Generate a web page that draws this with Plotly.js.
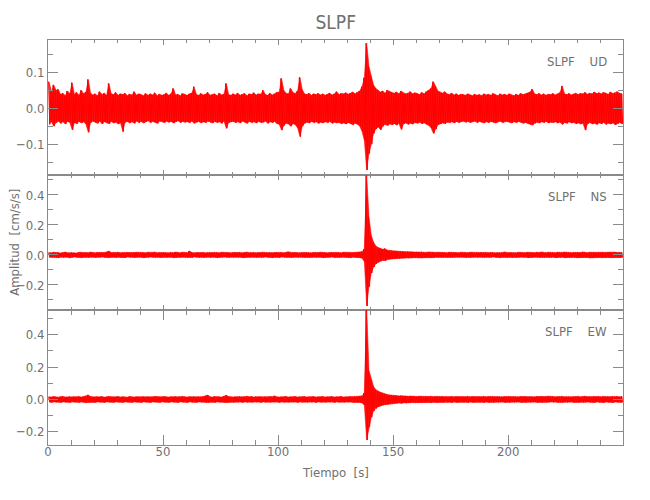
<!DOCTYPE html>
<html>
<head>
<meta charset="utf-8">
<script src="https://cdn.plot.ly/plotly-3.0.1.min.js"></script>
<style>html,body{margin:0;padding:0;background:#fff;}#chart{width:650px;height:500px;}</style>
</head>
<body>
<div id="chart"></div>
<script>
// Station and component labels
const station = "SLPF";
const components = ["UD", "NS", "EW"];
// Envelope of each trace in 1-second bins (bin start times 0..249 s), cm/s/s
const binWidth = 1;

const udMax = [
0.074,0.045,0.065,0.05,0.052,0.038,0.042,0.035,0.048,0.04,
0.071,0.038,0.044,0.036,0.05,0.04,0.045,0.08,0.042,0.037,
0.04,0.035,0.046,0.038,0.042,0.036,0.069,0.04,0.038,0.044,
0.036,0.04,0.038,0.042,0.035,0.039,0.037,0.046,0.036,0.04,
0.038,0.035,0.041,0.036,0.04,0.037,0.043,0.035,0.039,0.036,
0.038,0.042,0.036,0.04,0.055,0.037,0.039,0.035,0.041,0.038,
0.036,0.04,0.042,0.06,0.038,0.036,0.041,0.037,0.039,0.044,
0.036,0.038,0.04,0.035,0.042,0.037,0.039,0.069,0.038,0.036,
0.04,0.037,0.042,0.036,0.039,0.041,0.035,0.04,0.038,0.043,
0.037,0.04,0.039,0.05,0.038,0.036,0.042,0.037,0.04,0.044,
0.045,0.083,0.05,0.042,0.04,0.055,0.044,0.041,0.048,0.086,
0.052,0.04,0.038,0.042,0.036,0.04,0.038,0.041,0.037,0.04,
0.036,0.039,0.042,0.037,0.04,0.046,0.038,0.041,0.04,0.043,
0.039,0.042,0.045,0.04,0.044,0.048,0.06,0.085,0.181,0.116,
0.09,0.065,0.055,0.05,0.045,0.048,0.042,0.05,0.046,0.044,
0.042,0.045,0.04,0.048,0.043,0.04,0.042,0.046,0.04,0.043,
0.041,0.038,0.044,0.04,0.046,0.05,0.055,0.074,0.06,0.048,
0.045,0.042,0.046,0.04,0.038,0.042,0.037,0.04,0.036,0.039,
0.038,0.036,0.04,0.037,0.035,0.039,0.036,0.038,0.035,0.04,
0.037,0.039,0.036,0.041,0.038,0.035,0.04,0.037,0.039,0.036,
0.04,0.037,0.035,0.039,0.036,0.041,0.038,0.04,0.042,0.045,
0.053,0.04,0.038,0.041,0.037,0.04,0.036,0.039,0.038,0.041,
0.037,0.04,0.043,0.062,0.04,0.038,0.041,0.037,0.04,0.042,
0.038,0.041,0.04,0.044,0.039,0.042,0.04,0.045,0.041,0.043,
0.04,0.044,0.042,0.039,0.045,0.041,0.043,0.046,0.042,0.04];

const udMin = [
-0.045,-0.038,-0.05,-0.04,-0.036,-0.042,-0.038,-0.044,-0.037,-0.04,
-0.06,-0.04,-0.043,-0.037,-0.041,-0.038,-0.045,-0.067,-0.04,-0.036,
-0.039,-0.042,-0.036,-0.044,-0.038,-0.04,-0.043,-0.037,-0.041,-0.039,
-0.044,-0.04,-0.065,-0.039,-0.037,-0.041,-0.038,-0.042,-0.036,-0.04,
-0.037,-0.041,-0.038,-0.035,-0.04,-0.037,-0.039,-0.042,-0.036,-0.038,
-0.04,-0.036,-0.039,-0.037,-0.041,-0.038,-0.035,-0.04,-0.037,-0.039,
-0.038,-0.04,-0.036,-0.042,-0.039,-0.037,-0.041,-0.038,-0.04,-0.036,
-0.039,-0.041,-0.037,-0.04,-0.038,-0.042,-0.036,-0.056,-0.04,-0.038,
-0.037,-0.04,-0.038,-0.041,-0.036,-0.039,-0.042,-0.037,-0.04,-0.038,
-0.041,-0.037,-0.04,-0.039,-0.036,-0.042,-0.038,-0.04,-0.037,-0.043,
-0.045,-0.061,-0.048,-0.042,-0.044,-0.05,-0.043,-0.046,-0.055,-0.079,
-0.05,-0.042,-0.039,-0.041,-0.037,-0.04,-0.038,-0.042,-0.039,-0.041,
-0.038,-0.04,-0.037,-0.042,-0.039,-0.041,-0.04,-0.043,-0.041,-0.044,
-0.04,-0.043,-0.046,-0.042,-0.045,-0.05,-0.065,-0.09,-0.172,-0.126,
-0.1,-0.07,-0.058,-0.052,-0.06,-0.05,-0.045,-0.048,-0.044,-0.046,
-0.043,-0.047,-0.042,-0.059,-0.044,-0.041,-0.045,-0.042,-0.044,-0.04,
-0.042,-0.039,-0.043,-0.041,-0.045,-0.048,-0.055,-0.07,-0.058,-0.046,
-0.044,-0.041,-0.043,-0.039,-0.04,-0.038,-0.041,-0.037,-0.04,-0.038,
-0.036,-0.039,-0.037,-0.04,-0.038,-0.036,-0.04,-0.037,-0.039,-0.041,
-0.038,-0.04,-0.037,-0.039,-0.041,-0.038,-0.036,-0.04,-0.038,-0.037,
-0.039,-0.041,-0.038,-0.04,-0.037,-0.039,-0.042,-0.04,-0.043,-0.045,
-0.047,-0.042,-0.039,-0.041,-0.038,-0.04,-0.037,-0.041,-0.039,-0.04,
-0.038,-0.041,-0.039,-0.045,-0.04,-0.042,-0.038,-0.041,-0.04,-0.043,
-0.041,-0.044,-0.042,-0.061,-0.043,-0.04,-0.044,-0.042,-0.045,-0.041,
-0.043,-0.04,-0.045,-0.042,-0.044,-0.041,-0.046,-0.043,-0.04,-0.044];

const nsMax = [
0.016,0.014,0.018,0.015,0.017,0.013,0.016,0.019,0.015,0.014,
0.017,0.015,0.013,0.018,0.016,0.014,0.017,0.015,0.019,0.016,
0.014,0.017,0.015,0.018,0.016,0.02,0.026,0.017,0.015,0.016,
0.018,0.014,0.016,0.015,0.019,0.017,0.014,0.016,0.018,0.015,
0.017,0.016,0.014,0.018,0.015,0.017,0.019,0.014,0.016,0.015,
0.018,0.016,0.014,0.017,0.015,0.019,0.016,0.014,0.018,0.017,
0.015,0.026,0.017,0.014,0.016,0.018,0.015,0.017,0.014,0.016,
0.018,0.015,0.017,0.016,0.014,0.018,0.016,0.015,0.017,0.014,
0.016,0.018,0.015,0.017,0.014,0.016,0.019,0.015,0.017,0.016,
0.014,0.017,0.015,0.018,0.016,0.014,0.017,0.015,0.016,0.018,
0.015,0.017,0.014,0.016,0.021,0.017,0.015,0.018,0.016,0.014,
0.017,0.015,0.018,0.016,0.014,0.017,0.015,0.016,0.018,0.015,
0.017,0.014,0.016,0.018,0.015,0.017,0.016,0.014,0.018,0.016,
0.015,0.017,0.016,0.018,0.015,0.017,0.022,0.04,0.53,0.255,
0.13,0.085,0.06,0.05,0.045,0.038,0.042,0.032,0.03,0.028,
0.026,0.024,0.025,0.022,0.023,0.021,0.022,0.02,0.021,0.019,
0.02,0.018,0.021,0.019,0.017,0.02,0.018,0.019,0.017,0.018,
0.016,0.018,0.017,0.015,0.018,0.016,0.019,0.017,0.015,0.018,
0.016,0.017,0.015,0.018,0.016,0.014,0.017,0.016,0.018,0.015,
0.017,0.015,0.018,0.016,0.014,0.017,0.015,0.016,0.02,0.016,
0.015,0.017,0.016,0.014,0.018,0.016,0.017,0.015,0.018,0.016,
0.017,0.015,0.018,0.016,0.02,0.017,0.015,0.018,0.016,0.017,
0.015,0.018,0.016,0.017,0.019,0.016,0.018,0.015,0.017,0.016,
0.018,0.016,0.02,0.017,0.015,0.018,0.016,0.019,0.017,0.018,
0.016,0.019,0.017,0.018,0.02,0.017,0.019,0.016,0.018,0.017];

const nsMin = [
-0.015,-0.017,-0.014,-0.016,-0.018,-0.015,-0.017,-0.014,-0.016,-0.019,
-0.016,-0.014,-0.017,-0.015,-0.018,-0.016,-0.014,-0.017,-0.015,-0.016,
-0.018,-0.015,-0.016,-0.014,-0.017,-0.015,-0.018,-0.016,-0.014,-0.017,
-0.015,-0.017,-0.016,-0.018,-0.014,-0.016,-0.015,-0.017,-0.016,-0.014,
-0.016,-0.018,-0.015,-0.017,-0.014,-0.016,-0.018,-0.015,-0.017,-0.016,
-0.014,-0.017,-0.016,-0.015,-0.018,-0.016,-0.014,-0.017,-0.015,-0.016,
-0.018,-0.015,-0.017,-0.014,-0.016,-0.018,-0.015,-0.017,-0.016,-0.014,
-0.017,-0.015,-0.016,-0.018,-0.015,-0.017,-0.014,-0.016,-0.018,-0.015,
-0.016,-0.014,-0.017,-0.015,-0.018,-0.016,-0.014,-0.017,-0.015,-0.016,
-0.018,-0.015,-0.017,-0.016,-0.014,-0.017,-0.015,-0.018,-0.016,-0.015,
-0.017,-0.014,-0.016,-0.018,-0.015,-0.017,-0.016,-0.014,-0.017,-0.015,
-0.016,-0.018,-0.015,-0.017,-0.016,-0.014,-0.017,-0.015,-0.016,-0.018,
-0.015,-0.017,-0.016,-0.014,-0.017,-0.015,-0.018,-0.016,-0.015,-0.017,
-0.016,-0.018,-0.015,-0.017,-0.016,-0.018,-0.022,-0.045,-0.34,-0.21,
-0.12,-0.08,-0.058,-0.048,-0.042,-0.036,-0.038,-0.03,-0.028,-0.027,
-0.025,-0.023,-0.024,-0.021,-0.022,-0.02,-0.021,-0.019,-0.02,-0.018,
-0.019,-0.017,-0.02,-0.018,-0.016,-0.019,-0.017,-0.018,-0.016,-0.017,
-0.015,-0.017,-0.016,-0.018,-0.015,-0.017,-0.016,-0.014,-0.017,-0.015,
-0.016,-0.018,-0.015,-0.017,-0.016,-0.014,-0.017,-0.015,-0.016,-0.018,
-0.015,-0.017,-0.016,-0.014,-0.017,-0.015,-0.018,-0.016,-0.015,-0.017,
-0.016,-0.018,-0.015,-0.017,-0.016,-0.014,-0.017,-0.015,-0.018,-0.016,
-0.017,-0.015,-0.016,-0.018,-0.015,-0.017,-0.016,-0.019,-0.017,-0.015,
-0.018,-0.016,-0.017,-0.015,-0.018,-0.016,-0.019,-0.017,-0.016,-0.018,
-0.017,-0.019,-0.016,-0.018,-0.017,-0.02,-0.018,-0.016,-0.019,-0.017,
-0.018,-0.016,-0.019,-0.017,-0.018,-0.02,-0.017,-0.019,-0.018,-0.017];

const ewMax = [
0.017,0.015,0.018,0.016,0.014,0.017,0.019,0.015,0.016,0.018,
0.015,0.017,0.016,0.018,0.015,0.017,0.022,0.028,0.018,0.016,
0.015,0.017,0.016,0.018,0.014,0.016,0.019,0.017,0.015,0.016,
0.018,0.015,0.017,0.016,0.014,0.018,0.016,0.015,0.017,0.016,
0.015,0.018,0.016,0.017,0.015,0.016,0.019,0.017,0.015,0.016,
0.018,0.016,0.015,0.017,0.016,0.018,0.015,0.017,0.019,0.016,
0.015,0.017,0.016,0.018,0.015,0.017,0.016,0.018,0.022,0.027,
0.017,0.015,0.018,0.016,0.017,0.015,0.02,0.026,0.018,0.016,
0.015,0.017,0.016,0.018,0.015,0.017,0.02,0.016,0.018,0.015,
0.017,0.016,0.018,0.015,0.017,0.016,0.019,0.017,0.022,0.016,
0.015,0.017,0.016,0.018,0.015,0.017,0.016,0.018,0.015,0.017,
0.016,0.018,0.015,0.017,0.016,0.018,0.015,0.017,0.016,0.018,
0.015,0.017,0.016,0.018,0.015,0.017,0.016,0.018,0.015,0.017,
0.016,0.018,0.017,0.019,0.018,0.02,0.022,0.04,0.56,0.18,
0.12,0.08,0.06,0.05,0.045,0.04,0.034,0.03,0.028,0.026,
0.024,0.025,0.022,0.023,0.021,0.022,0.02,0.021,0.019,0.02,
0.018,0.02,0.019,0.017,0.019,0.018,0.02,0.017,0.019,0.018,
0.017,0.019,0.016,0.018,0.017,0.019,0.016,0.018,0.017,0.016,
0.018,0.017,0.019,0.016,0.018,0.017,0.016,0.018,0.017,0.019,
0.016,0.018,0.017,0.019,0.016,0.018,0.017,0.016,0.018,0.017,
0.019,0.016,0.018,0.017,0.016,0.018,0.017,0.019,0.016,0.018,
0.017,0.016,0.018,0.017,0.019,0.016,0.018,0.02,0.017,0.018,
0.016,0.018,0.017,0.019,0.016,0.018,0.017,0.016,0.018,0.017,
0.019,0.016,0.018,0.02,0.017,0.018,0.016,0.019,0.017,0.018,
0.016,0.019,0.017,0.018,0.016,0.019,0.017,0.018,0.016,0.018];

const ewMin = [
-0.016,-0.018,-0.015,-0.017,-0.016,-0.018,-0.015,-0.017,-0.016,-0.018,
-0.015,-0.017,-0.016,-0.018,-0.015,-0.017,-0.02,-0.018,-0.016,-0.017,
-0.018,-0.015,-0.017,-0.016,-0.018,-0.015,-0.017,-0.016,-0.018,-0.015,
-0.017,-0.016,-0.018,-0.015,-0.017,-0.016,-0.018,-0.015,-0.017,-0.016,
-0.018,-0.015,-0.017,-0.016,-0.018,-0.015,-0.017,-0.016,-0.018,-0.015,
-0.017,-0.016,-0.018,-0.015,-0.017,-0.016,-0.018,-0.015,-0.017,-0.016,
-0.018,-0.015,-0.017,-0.016,-0.018,-0.015,-0.017,-0.016,-0.018,-0.019,
-0.017,-0.016,-0.018,-0.015,-0.017,-0.016,-0.018,-0.019,-0.017,-0.016,
-0.018,-0.015,-0.017,-0.016,-0.018,-0.015,-0.017,-0.016,-0.018,-0.015,
-0.017,-0.016,-0.018,-0.015,-0.017,-0.016,-0.018,-0.015,-0.017,-0.016,
-0.018,-0.015,-0.017,-0.016,-0.018,-0.015,-0.017,-0.016,-0.018,-0.015,
-0.017,-0.016,-0.018,-0.015,-0.017,-0.016,-0.018,-0.015,-0.017,-0.016,
-0.018,-0.015,-0.017,-0.016,-0.018,-0.015,-0.017,-0.016,-0.018,-0.015,
-0.017,-0.016,-0.018,-0.017,-0.019,-0.018,-0.022,-0.035,-0.25,-0.17,
-0.11,-0.07,-0.055,-0.045,-0.04,-0.035,-0.032,-0.03,-0.027,-0.025,
-0.024,-0.023,-0.022,-0.024,-0.021,-0.022,-0.02,-0.021,-0.019,-0.02,
-0.019,-0.018,-0.02,-0.017,-0.019,-0.018,-0.02,-0.017,-0.019,-0.018,
-0.017,-0.019,-0.016,-0.018,-0.017,-0.019,-0.016,-0.018,-0.017,-0.016,
-0.018,-0.017,-0.019,-0.016,-0.018,-0.017,-0.016,-0.018,-0.017,-0.019,
-0.016,-0.018,-0.017,-0.019,-0.016,-0.018,-0.017,-0.016,-0.018,-0.017,
-0.019,-0.016,-0.018,-0.017,-0.016,-0.018,-0.017,-0.019,-0.016,-0.018,
-0.017,-0.016,-0.018,-0.017,-0.019,-0.016,-0.018,-0.017,-0.016,-0.018,
-0.016,-0.018,-0.017,-0.019,-0.016,-0.018,-0.017,-0.016,-0.018,-0.017,
-0.019,-0.016,-0.018,-0.017,-0.016,-0.018,-0.017,-0.019,-0.016,-0.018,
-0.017,-0.019,-0.016,-0.018,-0.017,-0.019,-0.016,-0.018,-0.017,-0.018];

// Filled band between the per-bin max and min (bin centres)
function bandTrace(maxv, minv, xa, ya) {
  const x = [], y = [];
  for (let i = 0; i < maxv.length; i++) { x.push((i + 0.5) * binWidth); y.push(maxv[i]); }
  for (let i = minv.length - 1; i >= 0; i--) { x.push((i + 0.5) * binWidth); y.push(minv[i]); }
  return {x: x, y: y, xaxis: xa, yaxis: ya, type: 'scatter', mode: 'lines',
          fill: 'toself', fillcolor: '#ff1010', line: {color: 'rgba(255,0,0,0.55)', width: 1},
          hoverinfo: 'skip', showlegend: false};
}
// Trace that swings between the per-bin max and min
function swingTrace(maxv, minv, xa, ya) {
  const x = [], y = [];
  for (let i = 0; i < maxv.length; i++) {
    x.push(i * binWidth + 0.25 * binWidth, i * binWidth + 0.75 * binWidth);
    y.push(maxv[i], minv[i]);
  }
  return {x: x, y: y, xaxis: xa, yaxis: ya, type: 'scatter', mode: 'lines',
          line: {color: '#ff0000', width: 1}, hoverinfo: 'skip', showlegend: false};
}

const data = [
  bandTrace(udMax, udMin, 'x', 'y'), swingTrace(udMax, udMin, 'x', 'y'),
  bandTrace(nsMax, nsMin, 'x2', 'y2'), swingTrace(nsMax, nsMin, 'x2', 'y2'),
  bandTrace(ewMax, ewMin, 'x3', 'y3'), swingTrace(ewMax, ewMin, 'x3', 'y3')
];

const FONT = '"Liberation Sans Narrow", "DejaVu Sans Condensed", "Roboto Condensed", "Liberation Sans", sans-serif';
const GRAY = '#707070';
const LINE = '#8a8a8a';

function xAxis(anchor, showLabels, len, mlen) {
  return {anchor: anchor, domain: [0, 1], range: [0, 249.9], dtick: 50, tick0: 0,
    ticks: 'inside', ticklen: len, tickcolor: LINE, tickwidth: 1,
    minor: {dtick: 10, ticks: 'inside', ticklen: mlen, tickcolor: LINE},
    showline: true, linecolor: LINE, linewidth: 1, mirror: 'ticks',
    showgrid: false, zeroline: false, showticklabels: showLabels,
    ticklabelstandoff: -6,
    tickfont: {family: FONT, size: 13, color: GRAY}};
}
function yAxis(anchor, domain, range, dtick) {
  return {anchor: anchor, domain: domain, range: range, dtick: dtick, tick0: 0,
    tickformat: '.1f', ticks: 'inside', ticklen: 10, tickcolor: LINE, tickwidth: 1,
    minor: {dtick: dtick / 2, ticks: 'inside', ticklen: 5, tickcolor: LINE},
    showline: true, linecolor: LINE, linewidth: 1, mirror: 'ticks',
    showgrid: false, zeroline: false,
    tickfont: {family: FONT, size: 13, color: GRAY}};
}

const compY = [0.948, 0.6148, 0.2798];
const annotations = components.map((c, i) => ({
  text: station + '\u00a0\u00a0\u00a0\u00a0' + c, xref: 'paper', yref: 'paper',
  x: 0.9757, y: compY[i], xanchor: 'right', yanchor: 'middle', showarrow: false,
  font: {family: FONT, size: 13, color: GRAY}
}));
annotations.push({text: 'Amplitud\u00a0\u00a0[cm/s/s]', xref: 'paper', yref: 'paper',
  x: -0.0597, y: 0.501, xanchor: 'center', yanchor: 'middle', textangle: -90,
  showarrow: false, font: {family: FONT, size: 13, color: GRAY}});
annotations.push({text: 'Tiempo\u00a0\u00a0[s]', xref: 'paper', yref: 'paper',
  x: 0.5, y: -0.0667, xanchor: 'center', yanchor: 'middle',
  showarrow: false, font: {family: FONT, size: 13, color: GRAY}});

const layout = {
  width: 650, height: 500,
  paper_bgcolor: '#ffffff', plot_bgcolor: '#ffffff',
  margin: {l: 48.3, r: 26.7, t: 40, b: 55, pad: 0},
  title: {text: station, x: 0.5165, xanchor: 'center', y: 0.956, yanchor: 'middle',
          font: {family: FONT, size: 19, color: GRAY}},
  xaxis: xAxis('y', false, 5, 3),
  xaxis2: xAxis('y2', false, 5, 3),
  xaxis3: xAxis('y3', true, 10, 5),
  yaxis: yAxis('x', [0.66667, 1], [-0.186, 0.19], 0.1),
  yaxis2: yAxis('x2', [0.33333, 0.66667], [-0.367, 0.533], 0.2),
  yaxis3: yAxis('x3', [0, 0.33333], [-0.281, 0.552], 0.2),
  annotations: annotations,
  showlegend: false
};

Plotly.newPlot('chart', data, layout, {displayModeBar: false, staticPlot: true});
</script>
</body>
</html>
